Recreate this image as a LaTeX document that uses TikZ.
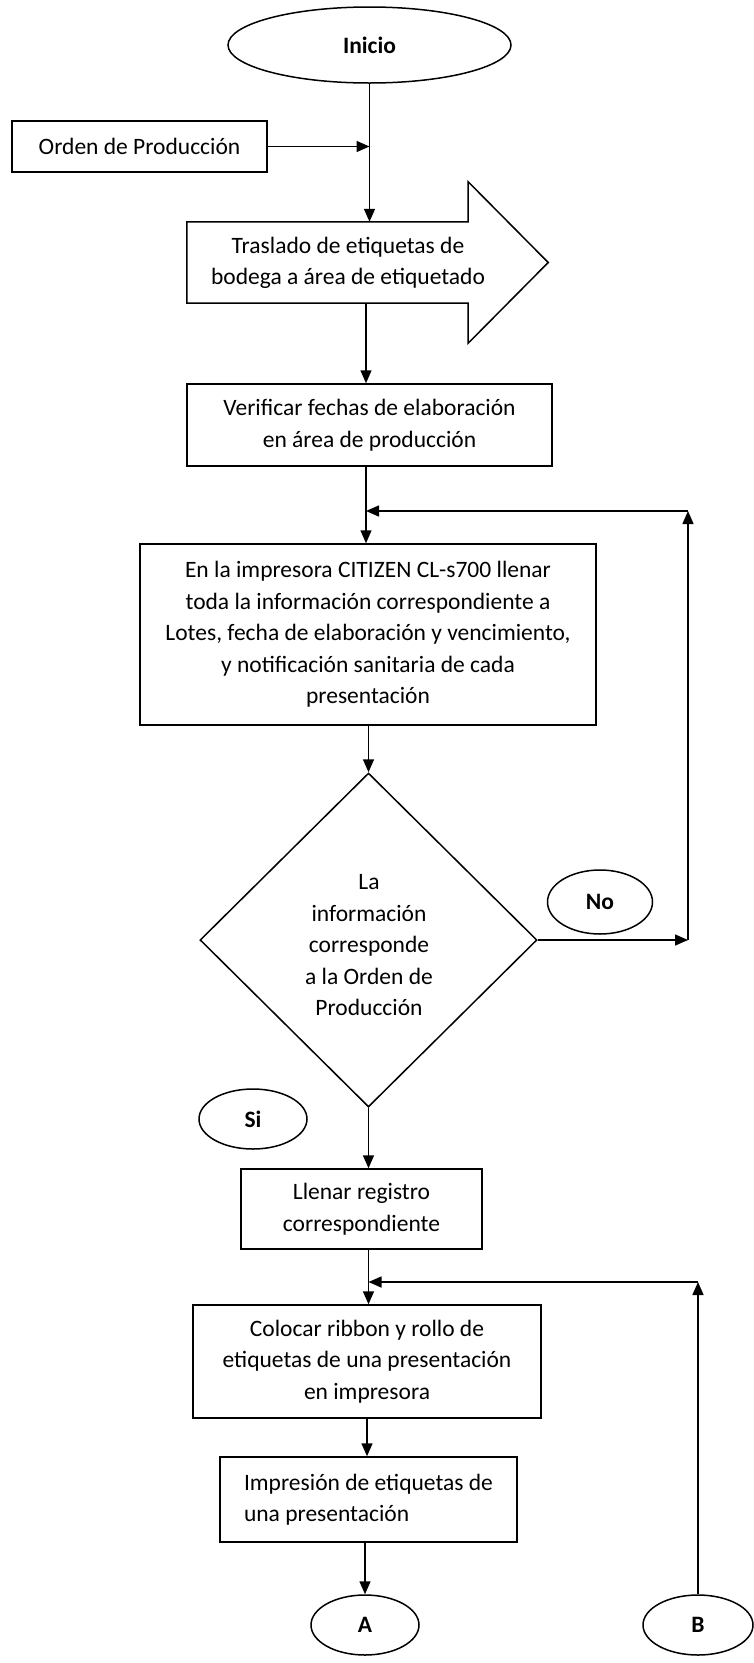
\documentclass[tikz,border=0pt]{standalone}
\usepackage{fontspec}
\setmainfont{Carlito}
\usetikzlibrary{arrows.meta,shapes.geometric,calc}
\newcommand{\bodysize}{\fontsize{23.5pt}{31.5pt}\selectfont}
\tikzset{
  line/.style={line width=1.5pt},
  stepbox/.style={draw, line, rectangle, inner sep=0pt, align=center, font=\bodysize},
  term/.style={draw, line, ellipse, inner sep=0pt, font=\bodysize\bfseries},
  plain/.style={inner sep=0pt, align=center, font=\bodysize},
  arr/.style={line, -{Triangle[length=13pt,width=11pt]}},
}
\begin{document}
\begin{tikzpicture}[x=1pt,y=-1pt]
\useasboundingbox (0,0) rectangle (754,1663);

% start and input
\node[term, minimum width=283pt, minimum height=76pt] (inicio) at (369.5,45) {Inicio};
\node[stepbox, minimum width=255pt, minimum height=51pt] (orden) at (139.5,146.5) {Orden de Producción};

% transport step drawn as a block arrow
\node[minimum width=281pt, minimum height=81pt, inner sep=0pt] (tras) at (327.5,262.5) {};
\draw[line] (tras.north west) -- (tras.north east) -- ($(tras.north east)+(0,-40)$)
  -- ($(tras.east)+(80,0)$) -- ($(tras.south east)+(0,40)$) -- (tras.south east)
  -- (tras.south west) -- cycle;
\node[plain] (trastext) at (348,263) {Traslado de etiquetas de\\bodega a área de etiquetado};

% process steps
\node[stepbox, minimum width=365pt, minimum height=82pt] (verif) at (369.5,425)
  {Verificar fechas de elaboración\\en área de producción};
\node[stepbox, minimum width=456pt, minimum height=181pt] (citizen) at (368,634.5)
  {En la impresora CITIZEN CL-s700 llenar\\toda la información correspondiente a\\Lotes, fecha de elaboración y vencimiento,\\y notificación sanitaria de cada\\presentación};

% decision
\node[draw, line, diamond, inner sep=0pt, minimum width=337pt, minimum height=334pt] (dec) at (368.5,940) {};
\node[plain] (dectext) at (369,945.5) {La\\información\\corresponde\\a la Orden de\\Producción};
\node[term, minimum width=105pt, minimum height=64pt] (no) at (600,902) {No};
\node[term, minimum width=108pt, minimum height=60pt] (si) at (253,1119) {Si};

\node[stepbox, minimum width=241pt, minimum height=80pt] (llenar) at (361.5,1209)
  {Llenar registro\\correspondiente};
\node[stepbox, minimum width=348pt, minimum height=113pt] (colocar) at (367,1361.5)
  {Colocar ribbon y rollo de\\etiquetas de una presentación\\en impresora};
\node[stepbox, align=left, minimum width=297pt, minimum height=85pt] (impr) at (368.5,1499.5)
  {Impresión de etiquetas de\\una presentación};

% connectors
\node[term, minimum width=108pt, minimum height=60pt] (A) at (365,1625) {A};
\node[term, minimum width=110pt, minimum height=60pt] (B) at (698,1625) {B};

\coordinate (j1) at (366,511);
\coordinate (c1) at (688,940);
\coordinate (c2) at (688,511);
\coordinate (j2) at (368.5,1282);

\draw[arr] (inicio.south) -- (inicio.south |- tras.north);
\draw[arr] (orden.east) -- (orden.east -| inicio.south);
\draw[arr] (tras.south -| j1) -- (verif.north -| j1);
\draw[arr] (verif.south -| j1) -- (citizen.north -| j1);
\draw[arr] (citizen.south -| dec.north) -- (dec.north);
\draw[arr] (dec.east) -- (c1);
\draw[arr] (c1) -- (c2);
\draw[arr] (c2) -- (j1);
\draw[arr] (dec.south) -- (dec.south |- llenar.north);
\draw[arr] (llenar.south -| j2) -- (colocar.north -| j2);
\draw[arr] (B.north) -- (B.north |- j2) coordinate (c3);
\draw[arr] (c3) -- (j2);
\draw[arr] (colocar.south) -- (colocar.south |- impr.north);
\draw[arr] (A.north |- impr.south) -- (A.north);
\end{tikzpicture}
\end{document}
